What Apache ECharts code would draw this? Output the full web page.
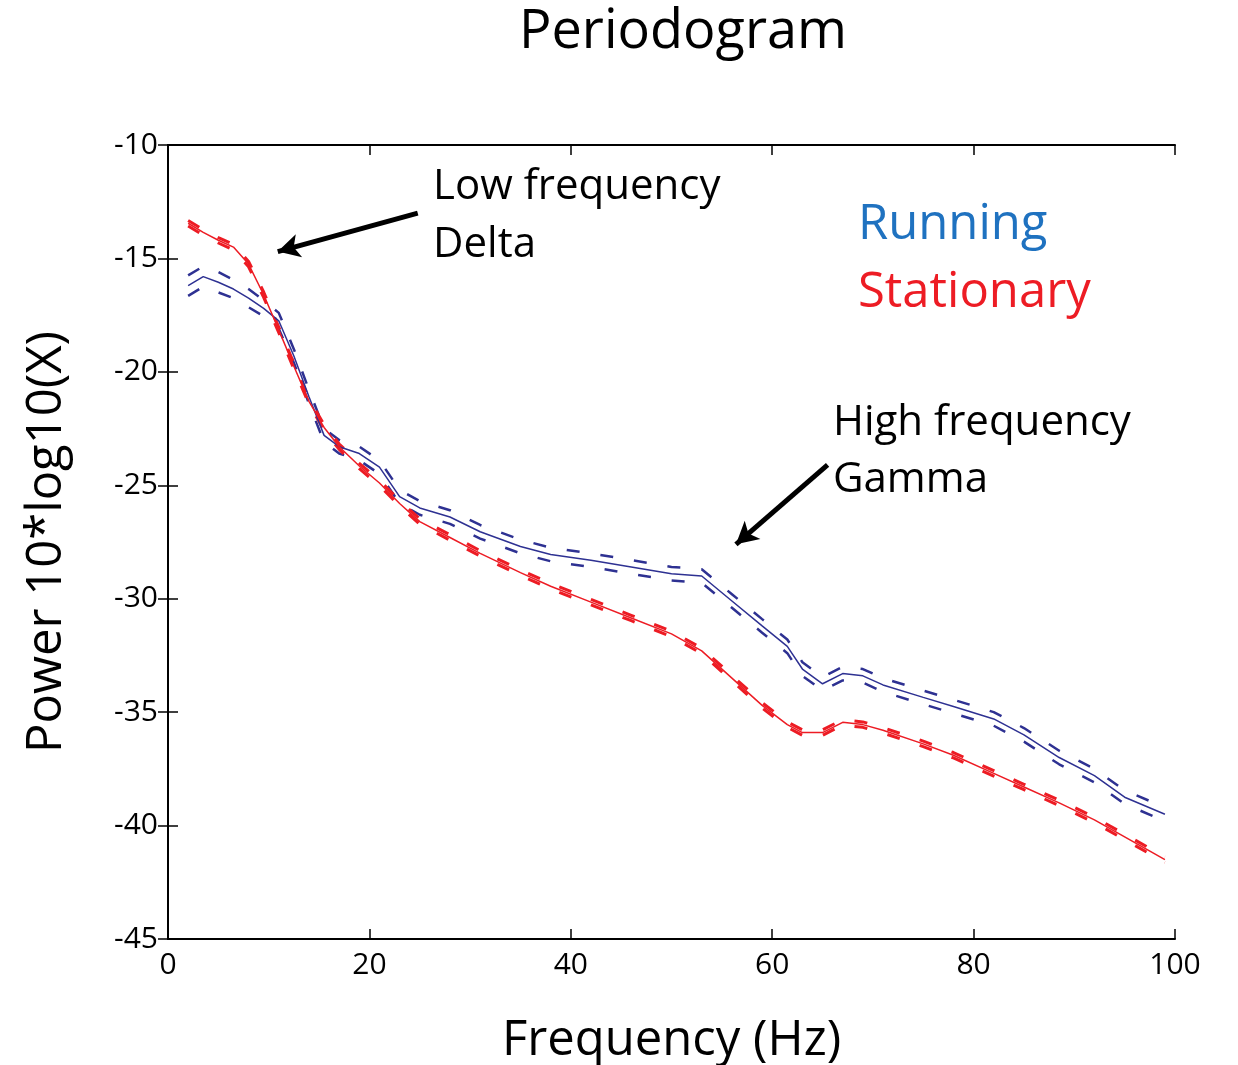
<!DOCTYPE html>
<html>
<head>
<meta charset="utf-8">
<script src="https://cdn.jsdelivr.net/npm/echarts@6/dist/echarts.min.js"></script>
<style>
  html, body { margin: 0; padding: 0; background: #fff; }
  #periodogramChart { width: 1238px; height: 1065px; }
</style>
</head>
<body>
<div id="periodogramChart"></div>
<script>
// frequency samples (Hz)
var freq = [2, 3.5, 5, 6.5, 8, 9.5, 11, 12.5, 14, 15.5, 17, 19, 21, 23, 25, 28, 31, 35, 38, 42,
  46, 50, 53, 56, 59, 61.5, 63, 65, 67, 69, 71, 75, 78, 82, 85, 88.5, 92, 95, 99]

// running: mean power and half-width of the dashed band
var runningMean = [-16.2, -15.8, -16.05, -16.35, -16.75, -17.2, -17.75, -19.3, -21.1, -22.8, -23.3, -23.6, -24.2, -25.5, -26.0, -26.4, -27.05, -27.7, -28.05, -28.3,
  -28.6, -28.9, -29.0, -30.1, -31.2, -32.1, -33.1, -33.75, -33.3, -33.4, -33.8, -34.35, -34.75, -35.3, -36.0, -37.0, -37.8, -38.75, -39.5]
var runningErr = [0.45, 0.45, 0.45, 0.4, 0.4, 0.35, 0.35, 0.3, 0.3, 0.3, 0.3, 0.3, 0.3, 0.3, 0.3, 0.3, 0.3, 0.3, 0.3, 0.3,
  0.3, 0.3, 0.3, 0.3, 0.3, 0.3, 0.3, 0.3, 0.3, 0.3, 0.3, 0.3, 0.3, 0.3, 0.3, 0.3, 0.3, 0.3, 0.3]

// stationary: mean power and half-width of the dashed band
var stationaryMean = [-13.45, -13.85, -14.2, -14.5, -15.25, -16.6, -18.15, -19.75, -21.3, -22.45, -23.3, -24.15, -24.9, -25.8, -26.6, -27.3, -28.0, -28.85, -29.45, -30.15,
  -30.85, -31.55, -32.3, -33.5, -34.7, -35.55, -35.9, -35.9, -35.45, -35.55, -35.8, -36.4, -36.9, -37.7, -38.3, -39.0, -39.75, -40.5, -41.5]
var stationaryErr = [0.12, 0.12, 0.12, 0.12, 0.12, 0.12, 0.12, 0.12, 0.12, 0.12, 0.12, 0.12, 0.12, 0.12, 0.12, 0.12, 0.12, 0.12, 0.12, 0.12,
  0.12, 0.12, 0.12, 0.12, 0.12, 0.12, 0.12, 0.12, 0.12, 0.12, 0.12, 0.12, 0.12, 0.12, 0.12, 0.12, 0.12, 0.12, 0.12]

var xTicks = [0, 20, 40, 60, 80, 100]
var yTicks = [-45, -40, -35, -30, -25, -20, -15, -10]

var blue = '#2e3192'
var red = '#ed1c24'
var font = '"Open Sans", "Noto Sans", sans-serif'

function pairs(ys, errs, sign) {
  let out = []
  for (let i = 0; i < freq.length; i++) {
    out.push([freq[i], ys[i] + sign * errs[i]])
  }
  return out
}

function lineSeries(name, data, color, width, dashed) {
  return {
    name: name,
    type: 'line',
    data: data,
    symbol: 'none',
    silent: true,
    lineStyle: {
      color: color,
      width: width,
      type: dashed ? [13, 21] : 'solid'
    },
    z: dashed ? 3 : 4
  }
}

var arrowStyle = { color: '#000', width: 5, type: 'solid' }

var series = [
  lineSeries('Running upper', pairs(runningMean, runningErr, 1), blue, 2.5, true),
  lineSeries('Running lower', pairs(runningMean, runningErr, -1), blue, 2.5, true),
  lineSeries('Running', pairs(runningMean, runningErr, 0), blue, 1.5, false),
  lineSeries('Stationary upper', pairs(stationaryMean, stationaryErr, 1), red, 3, true),
  lineSeries('Stationary lower', pairs(stationaryMean, stationaryErr, -1), red, 3, true),
  lineSeries('Stationary', pairs(stationaryMean, stationaryErr, 0), red, 1.5, false),
  {
    // arrows pointing at the two bands
    type: 'line',
    data: [],
    markLine: {
      silent: true,
      symbol: ['none', 'arrow'],
      symbolSize: [18, 22],
      label: { show: false },
      lineStyle: arrowStyle,
      data: [
        [{ coord: [24.8, -13.0] }, { coord: [10.9, -14.7] }],
        [{ coord: [65.5, -24.1] }, { coord: [56.4, -27.6] }]
      ]
    }
  }
]

var axisLineStyle = { color: '#000', width: 2 }

function txt(label, x, y, size, color) {
  return {
    type: 'text', x: x, y: y,
    style: { text: label, font: size + 'px ' + font, fill: color, textAlign: 'left', textVerticalAlign: 'middle' }
  }
}

var option = {
  animation: false,
  backgroundColor: '#fff',
  grid: { left: 168, right: 63, top: 145, bottom: 126, outerBoundsMode: 'none' },
  xAxis: [
    {
      type: 'value', min: 0, max: 100, interval: 20,
      name: 'Frequency (Hz)', nameLocation: 'middle', nameGap: 78,
      nameTextStyle: { fontFamily: font, fontSize: 49, color: '#000' },
      axisLine: { lineStyle: axisLineStyle },
      axisTick: { inside: true, length: 10, lineStyle: { color: '#000', width: 1.5 } },
      axisLabel: { fontFamily: font, fontSize: 30, color: '#000', margin: 11,
        formatter: function (v) { return xTicks.indexOf(v) >= 0 ? String(v) : '' } },
      splitLine: { show: false }
    },
    {
      type: 'value', min: 0, max: 100, interval: 20, position: 'top',
      axisLine: { lineStyle: axisLineStyle },
      axisTick: { inside: true, length: 10, lineStyle: { color: '#000', width: 1.5 } },
      axisLabel: { show: false },
      splitLine: { show: false }
    }
  ],
  yAxis: [
    {
      type: 'value', min: -45, max: -10, interval: 5,
      name: 'Power 10*log10(X)', nameLocation: 'middle', nameGap: 96, nameRotate: 90,
      nameTextStyle: { fontFamily: font, fontSize: 49, color: '#000' },
      axisLine: { lineStyle: axisLineStyle },
      axisTick: { inside: true, length: 10, lineStyle: { color: '#000', width: 1.5 } },
      axisLabel: { fontFamily: font, fontSize: 30, color: '#000', margin: 10,
        formatter: function (v) { return yTicks.indexOf(v) >= 0 ? String(v) : '' } },
      splitLine: { show: false }
    },
    {
      type: 'value', min: -45, max: -10, interval: 5, position: 'right',
      axisLine: { lineStyle: axisLineStyle },
      axisTick: { inside: true, length: 10, lineStyle: { color: '#000', width: 1.5 } },
      axisLabel: { show: false },
      splitLine: { show: false }
    }
  ],
  graphic: [
    {
      type: 'text', x: 683, y: 33,
      style: { text: 'Periodogram', font: '54px ' + font, fill: '#000', textAlign: 'center', textVerticalAlign: 'middle' }
    },
    txt('Low frequency', 433, 187, 42, '#000'),
    txt('Delta', 433, 245, 42, '#000'),
    txt('High frequency', 833, 423, 42, '#000'),
    txt('Gamma', 833, 480, 42, '#000'),
    txt('Running', 858, 225, 49, '#1f72c0'),
    txt('Stationary', 858, 293, 49, red)
  ],
  series: series
}

echarts.init(document.getElementById('periodogramChart')).setOption(option)
</script>
</body>
</html>
